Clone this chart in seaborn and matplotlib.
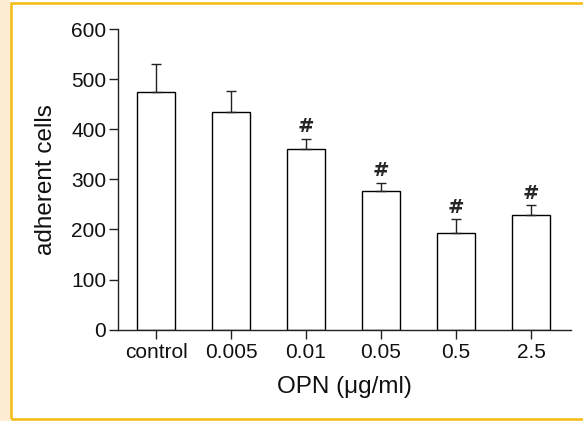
import numpy as np
import matplotlib
matplotlib.use("Agg")
import matplotlib.pyplot as plt
import seaborn as sns
from matplotlib.patches import Rectangle

# values
categories = ["control", "0.005", "0.01", "0.05", "0.5", "2.5"]
means = [475, 434, 361, 277, 193, 229]
err_up = [55, 43, 20, 16, 27, 19]
marks = ["", "", "#", "#", "#", "#"]

sns.set_style("ticks")
plt.rcParams['font.family'] = ['Liberation Sans', 'DejaVu Sans']

W, H = 583, 421
fig = plt.figure(figsize=(W / 100, H / 100), dpi=100)
fig.patch.set_facecolor("white")

# cream strip + yellow frame around the figure
fig.add_artist(Rectangle((0, 0), 10 / W, 1, transform=fig.transFigure,
                         facecolor="#fbecd2", edgecolor="none", zorder=0))
fig.add_artist(Rectangle((11 / W, 2 / H), 1.05, (H - 5.3) / H, transform=fig.transFigure,
                         facecolor="none", edgecolor="#f5bc1c", linewidth=1.9, zorder=5))

ax = fig.add_axes([118 / W, (H - 329.5) / H, (570.7 - 118) / W, 300 / H])
ax.set_facecolor("none")

sns.barplot(x=categories, y=means, color="white", edgecolor="black",
            linewidth=1.0, width=0.5, errorbar=None, ax=ax, saturation=1)
for p in ax.patches:
    p.set_facecolor("white")

xpos = np.arange(len(categories))
ax.errorbar(xpos, means, yerr=[np.zeros(len(means)), err_up], fmt="none",
            ecolor="#222222", elinewidth=1.0, capsize=3.8, capthick=1.0, zorder=3)

for x, m, e, s in zip(xpos, means, err_up, marks):
    if s:
        ax.annotate(s, (x, m + e), xytext=(0, 5), textcoords="offset points",
                    ha="center", va="baseline", fontsize=14,
                    family="DejaVu Sans", fontweight="bold")

ax.set_xlim(-0.507, 5.53)
ax.set_ylim(0, 600)
ax.set_yticks([0, 100, 200, 300, 400, 500, 600])
sns.despine(ax=ax)
for side in ["left", "bottom"]:
    ax.spines[side].set_linewidth(1.0)
    ax.spines[side].set_color("#222222")
ax.tick_params(axis="both", length=6.5, width=1.0, color="#222222",
               labelsize=15, pad=2, labelcolor="#111111")
ax.tick_params(axis="x", pad=3)

ax.set_ylabel("adherent cells", fontsize=17.5, labelpad=10, color="#111111")
ax.set_xlabel("OPN (\u03bcg/ml)", fontsize=17.5, labelpad=10, color="#111111")

fig.savefig("out.png", dpi=100)
